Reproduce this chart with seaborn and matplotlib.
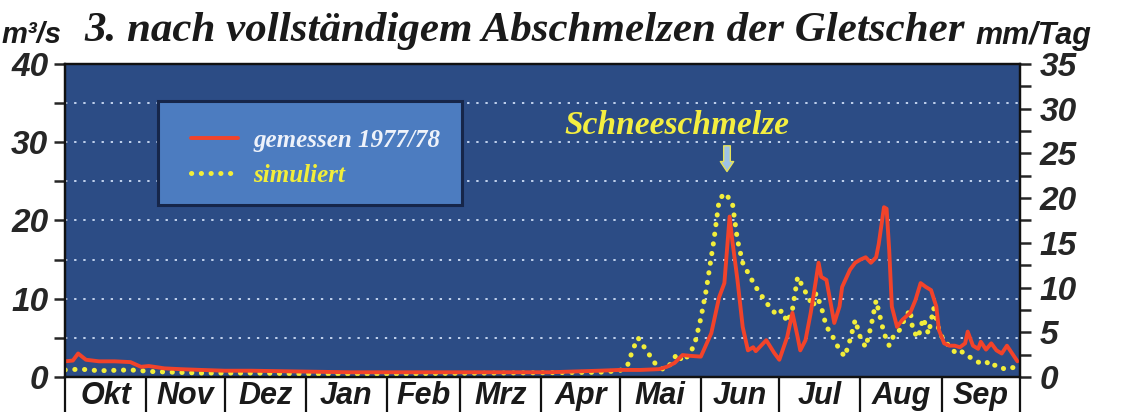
import numpy as np
import pandas as pd
import matplotlib
matplotlib.use("Agg")
import matplotlib.pyplot as plt
import matplotlib.transforms as mtransforms
from matplotlib.patches import Rectangle
import seaborn as sns

# days counted from 1 October (hydrological year 1977/78)
months = ["Okt", "Nov", "Dez", "Jan", "Feb", "Mrz", "Apr", "Mai", "Jun", "Jul", "Aug", "Sep"]
month_edges = [0, 31, 61, 92, 123, 151, 182, 212, 243, 273, 304, 335, 365]

# gemessen 1977/78 (m3/s)
meas_day = [0, 3, 5, 8, 13, 19, 25, 29, 32, 38, 44, 52, 61, 71, 90, 109, 128, 147, 166, 185,
            204, 212, 220, 227, 230, 233, 236, 239, 243, 247, 250, 252, 254, 255, 257, 259,
            261, 263, 264, 268, 271, 273, 276, 278, 280, 281, 283, 285, 287, 288, 289, 291,
            294, 296, 297, 300, 302, 304, 306, 308, 310, 311, 313, 314, 315, 316, 318, 320,
            323, 325, 327, 329, 331, 333, 334, 336, 338, 340, 342, 344, 345, 347, 349, 350,
            352, 354, 356, 358, 360, 362, 364]
meas_val = [2.0, 2.1, 3.0, 2.2, 2.0, 2.0, 1.9, 1.3, 1.4, 1.1, 1.0, 0.9, 0.8, 0.8, 0.7, 0.6,
            0.6, 0.6, 0.6, 0.6, 0.8, 0.9, 0.9, 1.0, 1.3, 1.8, 2.8, 2.7, 2.6, 5.6, 10.2, 12.0,
            20.5, 17.5, 12.4, 6.4, 3.4, 3.8, 3.3, 4.7, 3.1, 2.2, 5.1, 8.2, 5.1, 3.4, 4.7, 8.2,
            12.4, 14.6, 12.8, 12.4, 6.9, 9.0, 11.5, 13.7, 14.6, 15.0, 15.3, 14.6, 15.3, 17.0,
            21.7, 21.5, 16.2, 9.0, 6.4, 7.3, 8.2, 9.8, 12.0, 11.5, 11.1, 9.0, 6.0, 4.3, 4.0,
            4.0, 3.8, 4.3, 5.8, 4.0, 3.6, 4.5, 3.5, 4.3, 3.4, 3.0, 4.0, 3.0, 2.0]

# simuliert (m3/s)
sim_day = [0, 6, 13, 25, 33, 52, 71, 90, 128, 166, 204, 212, 215, 217, 219, 221, 224, 226,
           229, 231, 234, 236, 239, 241, 243, 245, 248, 250, 252, 255, 257, 259, 262, 264,
           268, 272, 274, 276, 278, 280, 282, 284, 286, 287, 289, 291, 293, 294, 296, 298,
           300, 302, 304, 306, 308, 310, 312, 313, 315, 317, 319, 321, 323, 324, 326, 328,
           330, 332, 334, 336, 338, 340, 342, 344, 346, 348, 350, 352, 354, 355, 357, 359,
           361, 363]
sim_val = [0.9, 1.0, 0.8, 0.9, 0.7, 0.5, 0.5, 0.4, 0.4, 0.5, 0.6, 0.8, 1.5, 3.5, 5.0, 4.0,
           2.5, 1.5, 0.9, 1.5, 3.0, 2.0, 3.0, 4.7, 7.5, 11.0, 17.5, 22.6, 23.5, 22.4, 17.5,
           14.6, 12.7, 11.5, 9.5, 7.9, 8.5, 7.0, 8.6, 12.8, 11.5, 10.2, 9.0, 10.7, 9.0, 6.4,
           5.5, 4.7, 3.5, 2.6, 4.7, 7.3, 5.0, 3.8, 6.4, 9.8, 7.0, 5.6, 4.0, 5.5, 6.0, 7.5,
           8.6, 6.0, 5.0, 7.5, 5.5, 8.8, 6.0, 4.5, 4.0, 3.2, 3.5, 2.8, 2.5, 2.0, 1.8, 2.0,
           1.3, 1.5, 1.5, 1.0, 1.2, 1.2]

sns.set_theme(style="ticks")
plt.rcParams["font.family"] = ["Liberation Sans", "DejaVu Sans"]
plt.rcParams["axes.linewidth"] = 1.6

meas = pd.DataFrame({"tag": meas_day, "q": meas_val})
sim = pd.DataFrame({"tag": sim_day, "q": sim_val})

fig = plt.figure(figsize=(11.33, 4.12), dpi=100)
ax = fig.add_axes([0.0574, 0.085, 0.8429, 0.7597])
ax.set_facecolor("#2c4c85")

grid_kw = dict(color="#c3d3ee", linestyle=(0, (1.2, 3.5)), linewidth=1.4)
ax.set_axisbelow(True)
ax.grid(axis="y", which="both", **grid_kw)

sns.lineplot(data=sim, x="tag", y="q", ax=ax, color="#f2ee3a", linewidth=3.6,
             linestyle=(0, (0.05, 1.9)), dash_capstyle="round", label="simuliert", zorder=3)
sns.lineplot(data=meas, x="tag", y="q", ax=ax, color="#f2432a", linewidth=2.8,
             label="gemessen 1977/78", zorder=4)

ax.set_xlim(0, 365)
ax.set_ylim(0, 40)
ax.set_xticks([])
ax.set_xlabel("")
ax.set_ylabel("")
ax.set_yticks([0, 10, 20, 30, 40])
ax.set_yticks([5, 15, 25, 35], minor=True)
ax.tick_params(axis="y", which="both", direction="out", length=8, width=1.8, pad=4,
               labelsize=24)
for t in ax.get_yticklabels():
    t.set_fontweight("bold")
    t.set_fontstyle("italic")

# right axis in mm/Tag
ax2 = ax.twinx()
ax2.set_ylim(0, 35)
ax2.set_yticks([0, 5, 10, 15, 20, 25, 30, 35])
ax2.set_yticks(np.arange(2.5, 35, 5), minor=True)
ax2.tick_params(axis="y", which="both", direction="out", length=8, width=1.8, pad=6,
                labelsize=24)
for t in ax2.get_yticklabels():
    t.set_fontweight("bold")
    t.set_fontstyle("italic")
for a in (ax, ax2):
    for s in a.spines.values():
        s.set_color("#111111")

# month strip below the axis
trans = mtransforms.blended_transform_factory(ax.transData, ax.transAxes)
ax.vlines(month_edges, -0.115, 0, transform=trans, color="#111111", lw=1.6, clip_on=False)
for i, m in enumerate(months):
    mid = (month_edges[i] + month_edges[i + 1]) / 2
    ax.text(mid, -0.06, m, transform=trans, ha="center", va="center", fontsize=22,
            fontweight="bold", fontstyle="italic", color="#1a1a1a")

# legend box
ax.add_patch(Rectangle((0.097, 0.55), 0.319, 0.332, transform=ax.transAxes,
                       facecolor="#4c7cc0", edgecolor="#16264a", lw=2.2, zorder=5))
handles, labels = ax.get_legend_handles_labels()
leg = ax.legend(handles[::-1], labels[::-1], loc="upper left",
                bbox_to_anchor=(0.108, 0.865), frameon=False, handlelength=1.9,
                handletextpad=0.6, labelspacing=0.5,
                prop=dict(family="Liberation Serif", weight="bold", style="italic", size=18))
leg.set_zorder(6)
leg.get_texts()[0].set_color("#eef2fa")
leg.get_texts()[1].set_color("#f2ee3a")

# annotation Schneeschmelze
ax.text(234, 32.2, "Schneeschmelze", ha="center", va="center", fontsize=24,
        family="Liberation Serif", fontweight="bold", fontstyle="italic", color="#f4ee40",
        zorder=6)
ax.annotate("", xy=(253, 25.9), xytext=(253, 29.9),
            arrowprops=dict(arrowstyle="simple,head_width=0.8,head_length=0.6,tail_width=0.4",
                            fc="#9fc3e6", ec="#e6e25a", lw=1), zorder=6)

fig.text(0.463, 0.925, "3. nach vollständigem Abschmelzen der Gletscher", ha="center",
         va="center", fontsize=31, family="Liberation Serif", fontweight="bold",
         fontstyle="italic", color="#1a1a1a")
fig.text(0.001, 0.915, "m³/s", ha="left", va="center", fontsize=21, fontweight="bold",
         fontstyle="italic", color="#1a1a1a")
fig.text(0.861, 0.912, "mm/Tag", ha="left", va="center", fontsize=22, fontweight="bold",
         fontstyle="italic", color="#1a1a1a")

fig.savefig("out.png", dpi=100, facecolor="white")
